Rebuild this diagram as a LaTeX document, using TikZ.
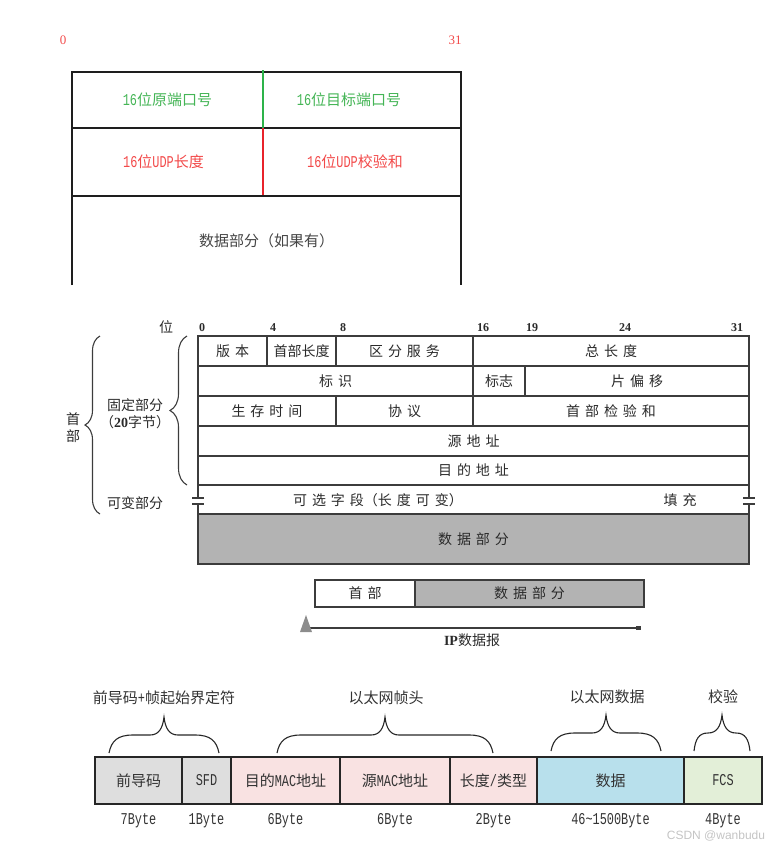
\documentclass[tikz,border=0pt]{standalone}
\usepackage{fontspec}
\usetikzlibrary{arrows.meta,calc,positioning,decorations.pathreplacing}
\newfontfamily\cjk{Noto Sans CJK SC}
\newfontfamily\mono[Scale=1.1,FakeStretch=0.72]{Liberation Mono}
\newfontfamily\bitfont{Liberation Serif}
\newfontfamily\wmfont{Liberation Sans}
\definecolor{udpInk}{HTML}{1E1E1E}
\definecolor{udpGreen}{HTML}{45B556}
\definecolor{udpGreenLine}{HTML}{2DB34A}
\definecolor{udpRed}{HTML}{F24A4A}
\definecolor{udpRedLine}{HTML}{E8232B}
\definecolor{udpMuted}{HTML}{454545}
\definecolor{ipLine}{HTML}{3C3C3C}
\definecolor{ipInk}{HTML}{2A2A2A}
\definecolor{ipShade}{HTML}{B3B3B3}
\definecolor{ipMarker}{HTML}{8C8C8C}
\definecolor{ethLine}{HTML}{262626}
\definecolor{ethInk}{HTML}{333333}
\definecolor{ethGray}{HTML}{DEDEDE}
\definecolor{ethPink}{HTML}{F9E2E2}
\definecolor{ethBlue}{HTML}{B8E0EC}
\definecolor{ethGreen}{HTML}{E3EFD8}
\definecolor{wmGray}{HTML}{C4C4C4}
\newcommand{\hw}[1]{{\mono #1}}
\newcommand{\ipfont}{\fontsize{14}{17}\selectfont\cjk\spaceskip 5pt\relax}
\tikzset{
  every node/.style={inner sep=0pt, outer sep=0pt},
  udpText/.style={font=\fontsize{15}{18}\selectfont\cjk},
  udpCell/.style={rectangle, draw=udpInk, line width=1.8pt},
  bitNum/.style={font=\fontsize{12}{14}\selectfont\bitfont\bfseries, text=ipInk},
  ipText/.style={font=\ipfont, text=ipInk},
  ipCell/.style={rectangle, draw=ipLine, line width=1.2pt, ipText},
  ipLineSty/.style={draw=ipLine, line width=1.2pt},
  ipBrace/.style={decorate, decoration={brace, amplitude=#1}, draw=ipLine,
    line width=1.1pt},
  ethText/.style={font=\fontsize{15}{18}\selectfont\cjk, text=ethInk},
  ethCell/.style={rectangle, draw=ethLine, line width=1.3pt,
    minimum height=47pt, ethText},
  byteLabel/.style={font=\fontsize{15}{18}\selectfont\mono, text=ethInk},
  bracePen/.style={draw=ethLine, line width=1.1pt},
}
% one IP header field: name, x1, x2, y1, y2, text
\newcommand{\ipcell}[6]{%
  \pgfmathsetmacro{\cellw}{#3-#2}%
  \pgfmathsetmacro{\cellh}{#5-#4}%
  \node[ipCell, minimum width=\cellw pt, minimum height=\cellh pt] (#1)
    at ({(#2+#3)/2},{(#4+#5)/2}) {#6};
}
% brace opening downwards: x1, x2, base y
\newcommand{\capbrace}[3]{%
  \pgfmathsetmacro{\bmid}{(#1+#2)/2}%
  \pgfmathsetmacro{\bcurl}{min(24,(#2-#1)/4)}%
  \pgfmathsetmacro{\btip}{min(14,(#2-#1)/4)}%
  \draw[bracePen] (#1,#3)
    .. controls (#1+0.1*\bcurl,#3-12) and (#1+0.35*\bcurl,#3-18) .. (#1+\bcurl,#3-18)
    -- (\bmid-\btip,#3-18)
    .. controls (\bmid-0.4*\btip,#3-18) and (\bmid-0.1*\btip,#3-24) .. (\bmid,#3-36)
    .. controls (\bmid+0.1*\btip,#3-24) and (\bmid+0.4*\btip,#3-18) .. (\bmid+\btip,#3-18)
    -- (#2-\bcurl,#3-18)
    .. controls (#2-0.35*\bcurl,#3-18) and (#2-0.1*\bcurl,#3-12) .. (#2,#3);
}
\begin{document}
\begin{tikzpicture}[x=1pt,y=-1pt]
  \useasboundingbox (0,0) rectangle (784,844);

  % UDP header
  \node[font=\fontsize{13}{15}\selectfont\bitfont, text=udpRed] (bitlo) at (63,40) {0};
  \node[font=\fontsize{13}{15}\selectfont\bitfont, text=udpRed] (bithi) at (455,40) {31};
  \node[udpCell, minimum width=191pt, minimum height=56pt] (sport) at (167.5,100) {};
  \node[udpCell, minimum width=198pt, minimum height=56pt, right=0pt of sport] (dport) {};
  \node[udpCell, minimum width=191pt, minimum height=68pt, below=0pt of sport] (ulen) {};
  \node[udpCell, minimum width=198pt, minimum height=68pt, right=0pt of ulen] (usum) {};
  \draw[udpGreenLine, line width=1.6pt] ([yshift=2pt]sport.north east) -- (sport.south east);
  \draw[udpRedLine, line width=1.6pt] (ulen.north east) -- (ulen.south east);
  \node[udpText, text=udpGreen] (sportTxt) at (sport.center) {\hw{16}位原端口号};
  \node[udpText, text=udpGreen] (dportTxt) at ([xshift=-13pt]dport.center) {\hw{16}位目标端口号};
  \node[udpText, text=udpRed] (ulenTxt) at ([xshift=-4pt]ulen.center) {\hw{16}位\hw{UDP}长度};
  \node[udpText, text=udpRed] (usumTxt) at ([xshift=-7pt]usum.center) {\hw{16}位\hw{UDP}校验和};
  \node[udpText, text=udpMuted, minimum width=389pt, minimum height=89pt] (udata)
    at ($(ulen.south west)!0.5!(usum.south east)+(0,44.5)$) {数据部分（如果有）};
  \draw[udpInk, line width=1.8pt] (udata.south west) -- (udata.north west)
    -- (udata.north east) -- (udata.south east);

  % IPv4 header
  \node[ipText] (bitword) at (166,327) {位};
  \foreach \b/\x in {0/202,4/273,8/343,16/483,19/532,24/625,31/737}
    \node[bitNum, anchor=base] (bit\b) at (\x,331) {\b};
  \ipcell{ver}{198}{267}{336}{366}{版 本}
  \ipcell{ihl}{267}{336}{336}{366}{首部长度}
  \ipcell{dsf}{336}{473}{336}{366}{区 分 服 务}
  \ipcell{tlen}{473}{749}{336}{366}{总 长 度}
  \ipcell{ident}{198}{473}{366}{396}{标 识}
  \ipcell{flags}{473}{525}{366}{396}{标志}
  \ipcell{frag}{525}{749}{366}{396}{片 偏 移}
  \ipcell{ttl}{198}{336}{396}{426}{生 存 时 间}
  \ipcell{proto}{336}{473}{396}{426}{协 议}
  \ipcell{hchk}{473}{749}{396}{426}{首 部 检 验 和}
  \ipcell{srcip}{198}{749}{426}{456}{源 地 址}
  \ipcell{dstip}{198}{749}{456}{485}{目 的 地 址}
  \node[ipText, minimum width=551pt, minimum height=29pt] (opt) at (473.5,499.5) {};
  \node[ipText] (optTxt) at (378,500) {可 选 字 段（长 度 可 变）};
  \node[ipText] (padTxt) at (680,500) {填 充};
  \foreach \s in {west,east} {
    \draw[ipLineSty] (opt.north \s) -- ++(0,13);
    \draw[ipLineSty] (opt.south \s) -- ++(0,-10);
    \draw[ipLineSty] ([xshift=-6pt,yshift=-13pt]opt.north \s) -- ++(12,0);
    \draw[ipLineSty] ([xshift=-6pt,yshift=10pt]opt.south \s) -- ++(12,0);
  }
  \node[ipCell, fill=ipShade, minimum width=551pt, minimum height=50pt] (ipdata)
    at (473.5,539) {数 据 部 分};

  \draw[ipBrace=17pt] ([xshift=-11pt]dstip.south west) -- ([xshift=-11pt]ver.north west);
  \draw[ipBrace=15pt] ([xshift=-98pt]ipdata.north west) -- ([xshift=-98pt]ver.north west);
  \node[ipText, align=center] (hdrLbl) at (73,428) {首\\部};
  \node[ipText, align=center] (fixLbl) at (135,414)
    {固定部分\\（{\bitfont\bfseries 20}字节）};
  \node[ipText] (varLbl) at (135,503) {可变部分};

  % datagram strip
  \node[ipCell, minimum width=100pt, minimum height=27pt] (dghdr) at (365,593.5) {首 部};
  \node[ipCell, fill=ipShade, minimum width=229pt, minimum height=27pt,
    right=0pt of dghdr] (dgbody) {数 据 部 分};
  \coordinate (dgStart) at ([xshift=-12pt,yshift=-21pt]dghdr.south west);
  \coordinate (dgEnd) at ([xshift=-3pt,yshift=-21pt]dgbody.south east);
  \draw[ipLineSty, -{Square[length=5pt,width=4pt]}] (dgStart) -- (dgEnd);
  \fill[ipMarker] ([xshift=-3pt,yshift=-4pt]dgStart) -- ([xshift=3pt,yshift=13pt]dgStart)
    -- ([xshift=9pt,yshift=-4pt]dgStart) -- cycle;
  \node[ipText] (dgLbl) at ([yshift=-12pt]$(dgStart)!0.5!(dgEnd)$)
    {{\bitfont\bfseries IP}数据报};

  % Ethernet frame
  \node[ethCell, fill=ethGray, minimum width=87pt] (pre) at (138.5,780.5) {前导码};
  \node[ethCell, fill=ethGray, minimum width=49pt, right=0pt of pre] (sfd) {\hw{SFD}};
  \node[ethCell, fill=ethPink, minimum width=109pt, right=0pt of sfd] (dmac) {目的\hw{MAC}地址};
  \node[ethCell, fill=ethPink, minimum width=110pt, right=0pt of dmac] (smac) {源\hw{MAC}地址};
  \node[ethCell, fill=ethPink, minimum width=87pt, right=0pt of smac] (etype) {长度\hw{/}类型};
  \node[ethCell, fill=ethBlue, minimum width=147pt, right=0pt of etype] (payload) {数据};
  \node[ethCell, fill=ethGreen, minimum width=78pt, right=0pt of payload] (fcs) {\hw{FCS}};
  \foreach \n/\t in {pre/7Byte,sfd/1Byte,dmac/6Byte,smac/6Byte,etype/2Byte,
      payload/46\~{}1500Byte,fcs/4Byte}
    \node[byteLabel] (\n-b) at ([yshift=-17pt]\n.south) {\t};

  \node[ethText] (preLbl) at (164,698) {前导码\hw{+}帧起始界定符};
  \node[ethText] (hdrLbl2) at (386,698) {以太网帧头};
  \node[ethText] (datLbl) at (607,697) {以太网数据};
  \node[ethText] (chkLbl) at (723,697) {校验};
  \capbrace{109}{219}{753}
  \capbrace{277}{493}{753}
  \capbrace{551}{661}{751}
  \capbrace{694}{750}{751}

  \node[font=\fontsize{12}{14}\selectfont\wmfont, text=wmGray] (mark) at (716,836)
    {CSDN @wanbudu};
\end{tikzpicture}
\end{document}
